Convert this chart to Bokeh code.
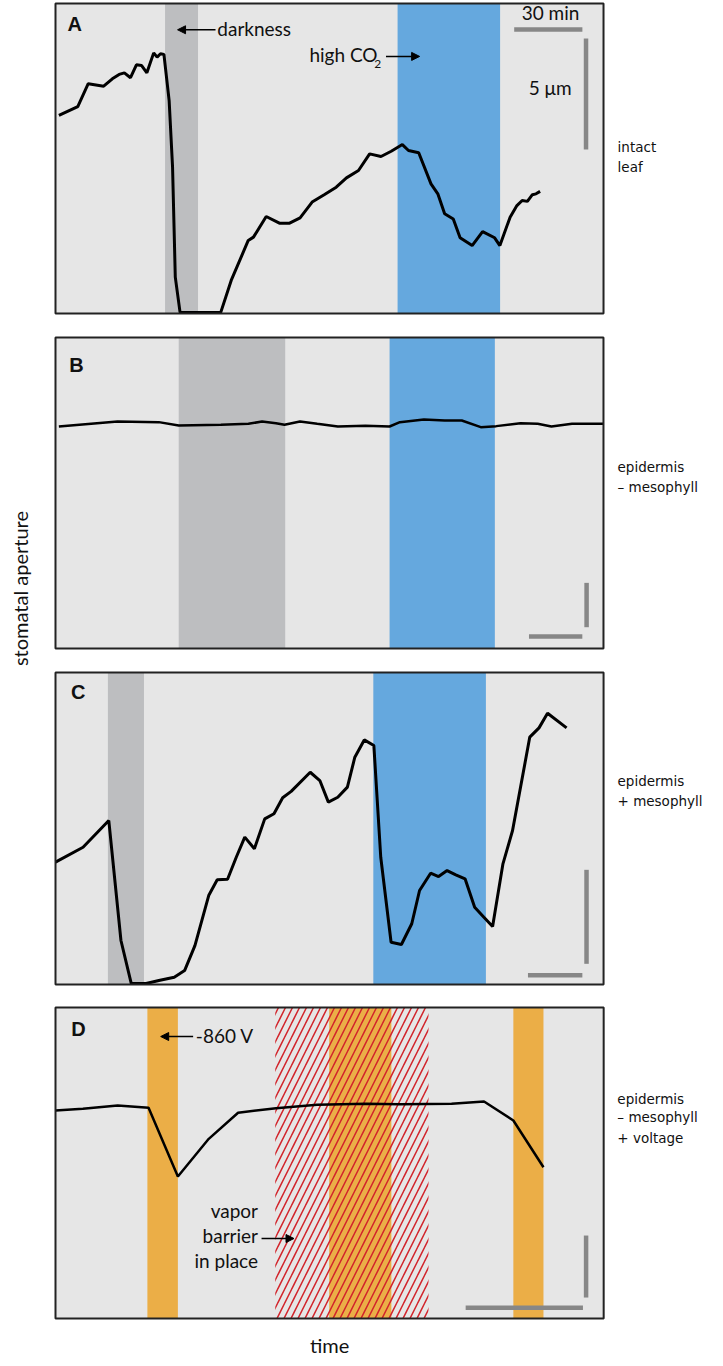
import math
from bokeh.plotting import figure
from bokeh.models import Label, Arrow, NormalHead, Range1d, ColumnDataSource
from bokeh.layouts import column
from bokeh.embed import file_html
from bokeh.resources import INLINE

# ---------------- data (x: minutes, y: aperture in µm, per-panel scale) -------------
A_TIME = [1.5, 9.8, 14.4, 21.2, 25.0, 28.0, 30.3, 33.0, 35.6, 37.9, 40.2, 43.2, 44.7, 46.2,
          47.7, 50.0, 51.5, 52.7, 54.8, 72.7, 77.3, 84.8, 87.1, 92.7, 98.5, 103.0, 107.6,
          112.9, 118.2, 123.5, 128.0, 133.3, 138.2, 143.2, 147.7, 152.6, 155.3, 159.8,
          165.2, 168.2, 171.2, 175.0, 178.0, 183.3, 187.9, 193.2, 195.5, 200.0, 203.0,
          205.3, 207.6, 209.8, 211.4, 213.2]
A_APERTURE = [8.92, 9.32, 10.35, 10.24, 10.57, 10.77, 10.84, 10.62, 11.20, 11.17, 10.84,
              11.74, 11.55, 11.70, 11.67, 9.59, 6.59, 1.64, 0.05, 0.05, 1.49, 3.29, 3.44,
              4.37, 4.07, 4.07, 4.31, 5.02, 5.35, 5.69, 6.11, 6.44, 7.19, 7.07, 7.31, 7.61,
              7.34, 7.24, 5.84, 5.39, 4.49, 4.26, 3.41, 3.06, 3.69, 3.41, 3.06, 4.34, 4.86,
              5.09, 5.05, 5.35, 5.39, 5.50]
A_DARK = [(48.2, 62.7)]
A_CO2 = [(150.5, 195.6)]

B_TIME = [1.9, 34.9, 58.1, 69.3, 93.0, 108.5, 116.2, 124.0, 128.8, 137.5, 147.2, 158.8,
          174.3, 187.9, 193.7, 207.2, 218.9, 228.5, 239.2, 247.9, 261.5, 271.2, 278.9,
          290.5, 308.2]
B_APERTURE = [25.03, 25.59, 25.52, 25.14, 25.22, 25.33, 25.59, 25.40, 25.22, 25.59, 25.33,
              25.03, 25.10, 25.03, 25.52, 25.82, 25.70, 25.70, 24.95, 25.07, 25.40, 25.33,
              25.03, 25.33, 25.33]
B_DARK = [(69.3, 129.2)]
B_CO2 = [(187.9, 247.1)]

C_TIME = [0.0, 15.2, 29.4, 36.1, 41.8, 50.0, 57.0, 65.5, 71.2, 76.9, 84.5, 89.2, 94.9,
          99.7, 104.4, 109.7, 115.4, 120.5, 125.3, 130.0, 140.5, 145.8, 150.5, 155.7,
          161.0, 165.1, 170.3, 175.6, 179.4, 185.1, 190.8, 196.5, 200.8, 206.9, 211.3,
          216.0, 220.8, 225.9, 231.2, 236.3, 241.1, 246.8, 252.1, 261.6, 266.7, 271.4, 281.9]
C_APERTURE = [6.51, 7.30, 8.72, 2.34, 0.05, 0.05, 0.21, 0.39, 0.74, 2.07, 4.73, 5.57, 5.60,
              6.77, 7.84, 7.22, 8.81, 9.08, 9.93, 10.27, 11.29, 10.85, 9.70, 9.96, 10.50,
              12.09, 13.01, 12.71, 6.77, 2.25, 2.13, 3.23, 5.00, 5.92, 5.74, 6.06, 5.83,
              5.62, 4.11, 3.58, 3.09, 6.42, 8.19, 13.16, 13.65, 14.43, 13.65]
C_DARK = [(28.9, 48.8)]
C_CO2 = [(175.3, 237.4)]

D_TIME = [0.0, 7.0, 15.9, 23.8, 31.3, 39.2, 46.7, 56.4, 66.9, 79.3, 88.1, 101.3, 109.6,
          117.1, 124.8]
D_APERTURE = [16.77, 16.91, 17.18, 16.99, 11.45, 14.49, 16.59, 16.96, 17.23, 17.31, 17.28,
              17.31, 17.50, 15.97, 12.20]
D_VOLTAGE = [(23.5, 31.3), (70.0, 85.9), (117.1, 124.8)]
D_BARRIER = [(56.2, 95.4)]

SCALE_MIN = 30   # horizontal scale bar, minutes
SCALE_UM = 5     # vertical scale bar, µm

ROW_LABELS = [["intact", "leaf"],
              ["epidermis", "\u2013 mesophyll"],
              ["epidermis", "+ mesophyll"],
              ["epidermis", "\u2013 mesophyll", "+ voltage"]]

# ---------------- styles ----------------
BG = "#e6e6e6"
GRAY = "#bdbec0"
BLUE = "#65a8de"
ORANGE = "#ebae47"
HATCH = "#d2232a"
BARC = "#878787"
TXT = "#111111"
FONT = "Lato"
RFONT = "DejaVu Sans"


def make_fig(h, xr, yr, panel_w, panel_h):
    p = figure(width=715, height=h, x_range=Range1d(*xr), y_range=Range1d(*yr),
               x_axis_location=None, y_axis_location=None, toolbar_location=None,
               output_backend="svg", min_border=0, title=None,
               background_fill_color="white", border_fill_color="white",
               outline_line_color=None)
    p.grid.grid_line_color = None
    p.quad(left=[0], right=[panel_w], bottom=[0], top=[panel_h], fill_color=BG,
           line_color=None)
    return p


def box_outline(p, panel_w, panel_h):
    p.quad(left=[0], right=[panel_w], bottom=[0], top=[panel_h], fill_color=None,
           line_color="#222222", line_width=2)


def bands(p, spans, top, color):
    src = ColumnDataSource(dict(l=[s[0] for s in spans], r=[s[1] for s in spans]))
    p.quad(left="l", right="r", bottom=0, top=top, source=src,
           fill_color=color, line_color=None)


def label(p, x, y, s, size="19px", font=FONT, align="left", bold=False, angle=0,
          baseline="alphabetic"):
    p.add_layout(Label(x=x, y=y, text=s, text_font=font, text_font_size=size,
                       text_align=align, text_baseline=baseline, angle=angle,
                       text_font_style="bold" if bold else "normal", text_color=TXT))


def arrow(p, x0, y0, x1, y1):
    p.add_layout(Arrow(end=NormalHead(size=8, fill_color="black", line_color="black",
                                      line_width=1),
                       x_start=x0, y_start=y0, x_end=x1, y_end=y1,
                       line_color="black", line_width=1.5))


def scalebars(p, hx, hy, vx, vy):
    p.segment(x0=[hx], y0=[hy], x1=[hx + SCALE_MIN], y1=[hy], line_color=BARC,
              line_width=4.5, line_cap="butt")
    p.segment(x0=[vx], y0=[vy], x1=[vx], y1=[vy + SCALE_UM], line_color=BARC,
              line_width=4.5, line_cap="butt")


def row_labels(p, x, ys, lines):
    for yy, t in zip(ys, lines):
        label(p, x, yy, t, size="13.5px", font=RFONT)


# ---------------- panel A ----------------
WA, HA = 241.1, 13.964
pA = make_fig(325, (-24.197, 290.365), (-0.541, 14.099), WA, HA)
bands(pA, A_DARK, HA, GRAY)
bands(pA, A_CO2, HA, BLUE)
pA.line(A_TIME, A_APERTURE, line_color="black", line_width=3)
scalebars(pA, 201.8, 12.79, 233.4, 7.39)
box_outline(pA, WA, HA)
label(pA, 5.3, 13.03, "A", size="20px", font="Liberation Sans", bold=True)
label(pA, 71.2, 12.85, "darkness")
arrow(pA, 70.4, 12.78, 53.7, 12.78)
label(pA, 111.7, 11.68, "high CO")
label(pA, 140.2, 11.24, "2", size="12px")
arrow(pA, 145.4, 11.58, 160.2, 11.58)
label(pA, 217.8, 13.58, "30 min", align="center")
label(pA, 217.6, 10.18, "5 \u03bcm", align="center")
row_labels(pA, 247.3, [7.48, 6.58], ROW_LABELS[0])

# ---------------- panel B ----------------
WB, HB = 308.2, 35.06
pB = make_fig(345, (-30.93, 371.2), (-2.480, 36.415), WB, HB)
bands(pB, B_DARK, HB, GRAY)
bands(pB, B_CO2, HB, BLUE)
pB.line(B_TIME, B_APERTURE, line_color="black", line_width=2.5)
scalebars(pB, 266.3, 1.35, 298.7, 2.4)
box_outline(pB, WB, HB)
label(pB, 7.8, 31.99, "B", size="20px", font="Liberation Sans", bold=True)
row_labels(pB, 316.1, [20.51, 18.26], ROW_LABELS[1])
label(pB, -19.7, 6.76, "stomatal aperture", size="20px", align="center",
      baseline="middle", angle=math.pi / 2)

# ---------------- panel C ----------------
WC, HC = 302.3, 16.596
pC = make_fig(325, (-30.34, 364.04), (-0.585, 16.702), WC, HC)
bands(pC, C_DARK, HC, GRAY)
bands(pC, C_CO2, HC, BLUE)
pC.line(C_TIME, C_APERTURE, line_color="black", line_width=3)
scalebars(pC, 260.6, 0.49, 292.9, 1.1)
box_outline(pC, WC, HC)
label(pC, 8.5, 15.54, "C", size="20px", font="Liberation Sans", bold=True)
row_labels(pC, 310.0, [10.80, 9.74], ROW_LABELS[2])

# ---------------- panel D ----------------
WD, HD = 140.2, 25.08
pD = make_fig(371, (-14.066, 168.8), (-3.871, 26.048), WD, HD)
bands(pD, D_VOLTAGE, HD, ORANGE)
srcH = ColumnDataSource(dict(l=[s[0] for s in D_BARRIER], r=[s[1] for s in D_BARRIER]))
pD.quad(left="l", right="r", bottom=0, top=HD, source=srcH, fill_color=None,
        line_color=None, hatch_pattern="/", hatch_color=HATCH, hatch_weight=1.5,
        hatch_scale=14)
pD.line(D_TIME, D_APERTURE, line_color="black", line_width=2.5)
scalebars(pD, 104.9, 0.86, 135.7, 1.69)
box_outline(pD, WD, HD)
label(pD, 4.0, 23.34, "D", size="20px", font="Liberation Sans", bold=True)
label(pD, 35.9, 22.83, "-860 V")
arrow(pD, 35.2, 22.74, 26.9, 22.74)
label(pD, 51.8, 8.72, "vapor", align="right")
label(pD, 51.8, 6.70, "barrier", align="right")
label(pD, 51.8, 4.68, "in place", align="right")
arrow(pD, 52.7, 6.45, 61.0, 6.45)
row_labels(pD, 143.7, [17.74, 16.21, 14.59], ROW_LABELS[3])
label(pD, 70.1, -2.10, "time", size="20px", align="center")

layout = column(pA, pB, pC, pD, spacing=0)
open("out.html", "w").write(file_html(layout, INLINE))
